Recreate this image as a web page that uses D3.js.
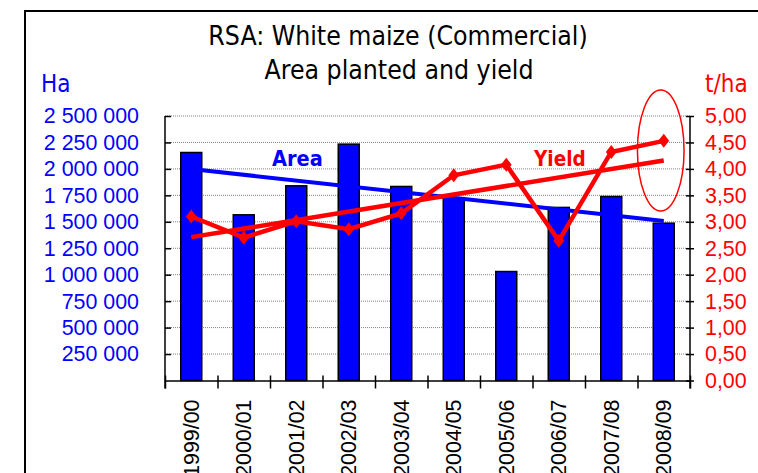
<!DOCTYPE html>
<html>
<head>
<meta charset="utf-8">
<script src="https://cdn.jsdelivr.net/npm/d3@7"></script>
<style>
  body { margin: 0; background: #fff; }
  svg { display: block; font-family: "DejaVu Sans Condensed", "DejaVu Sans", sans-serif; }
</style>
</head>
<body>
<div id="chart"></div>
<script>
// DATA
const seasons = ["1999/00", "2000/01", "2001/02", "2002/03", "2003/04",
                 "2004/05", "2005/06", "2006/07", "2007/08", "2008/09"];
const areaHa = [2155000, 1566000, 1840000, 2234000, 1834000,
                1728000, 1030000, 1636000, 1739000, 1487000];
const yieldT = [3.10, 2.70, 3.01, 2.86, 3.16, 3.88, 4.08, 2.64, 4.32, 4.53];
const areaTrend = [1999000, 1508000];   // trendline ends (first, last season)
const yieldTrend = [2.71, 4.16];
const areaTicks = [250000, 500000, 750000, 1000000, 1250000, 1500000,
                   1750000, 2000000, 2250000, 2500000];
const yieldTicks = [0, 0.5, 1, 1.5, 2, 2.5, 3, 3.5, 4, 4.5, 5];

const W = 758, H = 473;
const plot = {left: 165, right: 690, top: 116, bottom: 380.5};

const svg = d3.select("#chart").append("svg")
    .attr("width", W).attr("height", H);

svg.append("rect").attr("width", W).attr("height", H).attr("fill", "#fff");

// outer frame (runs off the right and bottom)
svg.append("rect")
    .attr("x", 25).attr("y", 11)
    .attr("width", W).attr("height", H)
    .attr("fill", "none").attr("stroke", "#000").attr("stroke-width", 2);

const x = d3.scaleBand()
    .domain(seasons)
    .range([plot.left, plot.right])
    .paddingInner(0.6).paddingOuter(0.3);
const cx = d => x(d) + x.bandwidth() / 2;

const yA = d3.scaleLinear().domain([0, 2500000]).range([plot.bottom, plot.top]);
const yY = d3.scaleLinear().domain([0, 5]).range([plot.bottom, plot.top]);

const loc = d3.formatLocale({decimal: ",", thousands: " ", grouping: [3], currency: ["", ""]});
const fmtA = loc.format(",d");
const fmtY = loc.format(".2f");

// gridlines
svg.append("g").selectAll("line")
    .data(areaTicks).join("line")
    .attr("x1", plot.left).attr("x2", plot.right)
    .attr("y1", d => yA(d)).attr("y2", d => yA(d))
    .attr("stroke", "#808080").attr("stroke-width", 1)
    .attr("stroke-dasharray", "1,1");

// bars
svg.append("g").selectAll("rect")
    .data(seasons).join("rect")
    .attr("x", d => x(d))
    .attr("width", x.bandwidth())
    .attr("y", (d, i) => yA(areaHa[i]))
    .attr("height", (d, i) => yA(0) - yA(areaHa[i]))
    .attr("fill", "#0000ff")
    .attr("stroke", "#000").attr("stroke-width", 1.5);

// area trend
const first = seasons[0], last = seasons[seasons.length - 1];
svg.append("line")
    .attr("x1", cx(first)).attr("y1", yA(areaTrend[0]))
    .attr("x2", cx(last)).attr("y2", yA(areaTrend[1]))
    .attr("stroke", "#0000ff").attr("stroke-width", 4);

// yield trend
svg.append("line")
    .attr("x1", cx(first)).attr("y1", yY(yieldTrend[0]))
    .attr("x2", cx(last)).attr("y2", yY(yieldTrend[1]))
    .attr("stroke", "#ff0000").attr("stroke-width", 4.5);

// yield line + diamonds
const line = d3.line()
    .x((d, i) => cx(seasons[i]))
    .y(d => yY(d));
svg.append("path")
    .datum(yieldT)
    .attr("d", line)
    .attr("fill", "none").attr("stroke", "#ff0000")
    .attr("stroke-width", 4.5).attr("stroke-linejoin", "miter");

svg.append("g").selectAll("path")
    .data(yieldT).join("path")
    .attr("d", d3.symbol(d3.symbolDiamond, 70))
    .attr("transform", (d, i) => `translate(${cx(seasons[i])},${yY(d)}) scale(1.2,0.9)`)
    .attr("fill", "#ff0000");

// left axis (ticks inside)
const gL = svg.append("g")
    .attr("transform", `translate(${plot.left},0)`)
    .call(d3.axisLeft(yA).tickValues(areaTicks).tickFormat(fmtA)
        .tickSizeInner(-6).tickSizeOuter(0).tickPadding(26));
gL.select(".domain").remove();
gL.append("line").attr("x1", 0).attr("x2", 0)
    .attr("y1", plot.top).attr("y2", plot.bottom + 8)
    .attr("stroke", "#000").attr("stroke-width", 1.5);
gL.selectAll(".tick line").attr("stroke", "#000").attr("stroke-width", 1.5);
gL.selectAll("text").attr("fill", "#0000ff").style("font-size", "21.4px");

// right axis (ticks crossing)
const gR = svg.append("g")
    .attr("transform", `translate(${plot.right},0)`)
    .call(d3.axisRight(yY).tickValues(yieldTicks).tickFormat(fmtY)
        .tickSizeInner(4).tickSizeOuter(0).tickPadding(11));
gR.select(".domain").remove();
gR.append("line").attr("x1", 0).attr("x2", 0)
    .attr("y1", plot.top).attr("y2", plot.bottom + 8)
    .attr("stroke", "#000").attr("stroke-width", 1.5);
gR.selectAll(".tick line").attr("x1", -4).attr("stroke", "#000").attr("stroke-width", 1.5);
gR.selectAll("text").attr("fill", "#ff0000").style("font-size", "21.4px");

// bottom axis: boundary ticks
const xb = d3.scaleLinear().domain([0, seasons.length]).range([plot.left, plot.right]);
const gB = svg.append("g")
    .attr("transform", `translate(0,${plot.bottom})`)
    .call(d3.axisBottom(xb).tickValues(d3.range(seasons.length + 1))
        .tickFormat("").tickSizeInner(8).tickSizeOuter(0));
gB.select(".domain").attr("stroke", "#000").attr("stroke-width", 1.5);
gB.selectAll(".tick line").attr("y1", -5).attr("stroke", "#000").attr("stroke-width", 1.5);

// bottom labels, rotated (they run off the bottom edge, as in the original)
const gX = svg.append("g")
    .attr("transform", `translate(0,${plot.bottom})`)
    .call(d3.axisBottom(x).tickSize(0).tickPadding(0));
gX.select(".domain").remove();
gX.selectAll("text")
    .attr("transform", "translate(0,19) rotate(-90)")
    .attr("text-anchor", "end")
    .attr("x", 0).attr("y", 0).attr("dy", "0.36em")
    .attr("fill", "#000").style("font-size", "21.4px");

// titles
svg.append("text").attr("x", 398).attr("y", 45).attr("text-anchor", "middle")
    .style("font-size", "26.4px").text("RSA: White maize (Commercial)");
svg.append("text").attr("x", 399).attr("y", 79).attr("text-anchor", "middle")
    .style("font-size", "26.4px").text("Area planted and yield");

svg.append("text").attr("x", 41).attr("y", 92)
    .attr("fill", "#0000ff").style("font-size", "24px").text("Ha");
svg.append("text").attr("x", 705).attr("y", 92)
    .attr("fill", "#ff0000").style("font-size", "24px").text("t/ha");

// series labels
svg.append("text").attr("x", 272).attr("y", 165.5)
    .attr("fill", "#0000ff").style("font-size", "21.5px").style("font-weight", "bold")
    .text("Area");
svg.append("text").attr("x", 534).attr("y", 165.5)
    .attr("fill", "#ff0000").style("font-size", "20.5px").style("font-weight", "bold")
    .text("Yield");

// highlight ellipse around the last season
svg.append("ellipse")
    .attr("cx", cx(last) - 3).attr("cy", 150.5)
    .attr("rx", 23.3).attr("ry", 60.5)
    .attr("fill", "none").attr("stroke", "#ff0000").attr("stroke-width", 1.5);
</script>
</body>
</html>
